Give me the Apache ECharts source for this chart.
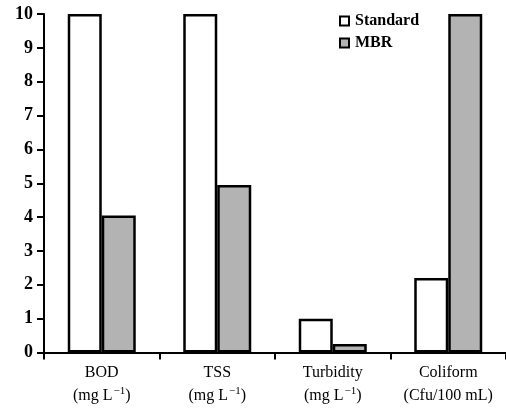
<!DOCTYPE html>
<html><head><meta charset="utf-8">
<script src="https://cdn.jsdelivr.net/npm/echarts@6/dist/echarts.min.js"></script>
<style>html,body{margin:0;padding:0;background:#fff}#c{width:506px;height:411px}</style>
</head><body><div id="c"></div>
<script>
const categories = ['BOD', 'TSS', 'Turbidity', 'Coliform'];
const units = ['(mg L', '(mg L', '(mg L', '(Cfu/100 mL)'];
const standardValues = [10, 10, 1.0, 2.2];
const mbrValues = [4.05, 4.95, 0.25, 10];
const yTicks = [0, 1, 2, 3, 4, 5, 6, 7, 8, 9, 10];

const chart = echarts.init(document.getElementById('c'));
const serif = '"Liberation Serif", "DejaVu Serif", serif';
chart.setOption({
  animation: false,
  backgroundColor: '#fff',
  grid: { left: 44, top: 14, width: 464, bottom: 58.5, containLabel: false },
  legend: {
    orient: 'vertical', left: 334, top: 8, itemWidth: 9, itemHeight: 9, itemGap: 6,
    icon: 'rect',
    textStyle: { fontFamily: serif, fontWeight: 'bold', fontSize: 16, color: '#000', padding: [0,0,0,1] },
    data: ['Standard', 'MBR']
  },
  xAxis: {
    type: 'category', data: categories,
    axisLine: { lineStyle: { color: '#000', width: 2 } },
    axisTick: { show: true, length: 7, inside: false, lineStyle: { color: '#000', width: 2 } },
    axisLabel: {
      margin: 9, color: '#000', interval: 0,
      formatter: function (v, i) {
        const u = units[i];
        if (u.indexOf('Cfu') >= 0) return '{n|' + v + '}\n{n|' + u + '}';
        return '{n|' + v + '}\n{n|' + u + '}{s|\u22121}{n|)}';
      },
      rich: {
        n: { fontFamily: serif, fontSize: 16, color: '#000', lineHeight: 23 },
        s: { fontFamily: serif, fontSize: 11, color: '#000', lineHeight: 23, padding: [0, 0, 10, 1] }
      }
    }
  },
  yAxis: {
    type: 'value', min: 0, max: 10, interval: 1,
    axisLine: { show: true, lineStyle: { color: '#000', width: 2 } },
    axisTick: { show: true, length: 7, lineStyle: { color: '#000', width: 2 } },
    splitLine: { show: false },
    axisLabel: {
      margin: 11, color: '#000', fontFamily: serif, fontWeight: 'bold', fontSize: 18,
      formatter: function (v) { return yTicks.indexOf(v) >= 0 ? String(v) : ''; }
    }
  },
  series: [
    { name: 'Standard', type: 'bar', data: standardValues, barWidth: 34, barGap: '0%',
      itemStyle: { color: '#fff', borderColor: '#000', borderWidth: 2.5 } },
    { name: 'MBR', type: 'bar', data: mbrValues, barWidth: 34,
      itemStyle: { color: '#b3b3b3', borderColor: '#000', borderWidth: 2.5 } }
  ]
});
</script></body></html>
